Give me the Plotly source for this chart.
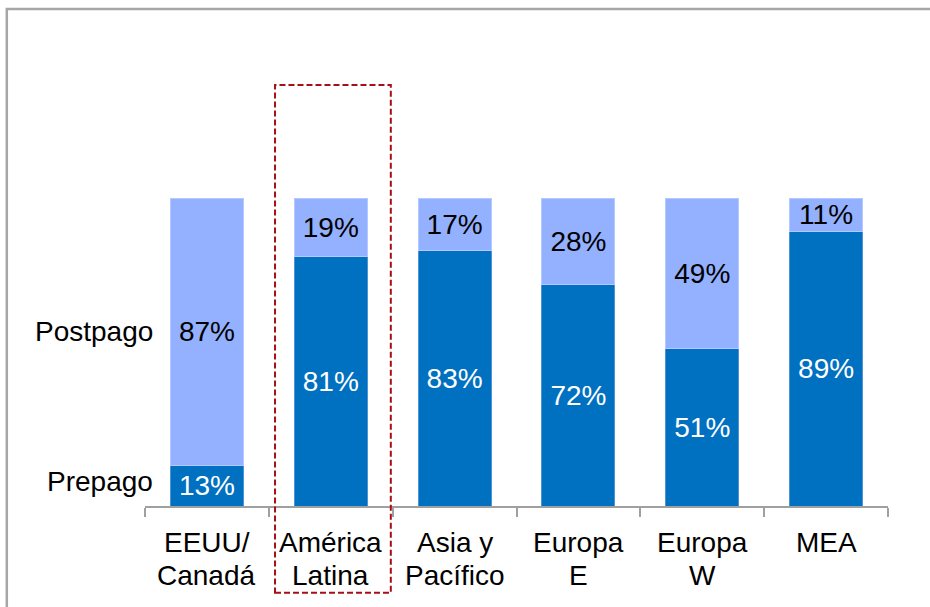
import plotly.graph_objects as go

# Regional split of mobile subscriptions: prepaid vs postpaid (%)
regions = ["EEUU/<br>Canadá", "América<br>Latina", "Asia y<br>Pacífico",
           "Europa<br>E", "Europa<br>W", "MEA"]
prepago = [13, 81, 83, 72, 51, 89]
postpago = [87, 19, 17, 28, 49, 11]

FONT = "Arial, Liberation Sans, sans-serif"
SIZE = 28
DARK = "#0070C0"
LIGHT = "#93B1FF"

fig = go.Figure()
fig.add_trace(go.Bar(
    x=regions, y=prepago, name="Prepago",
    marker=dict(color=DARK, line=dict(color="#4F93D6", width=1)),
    text=[f"{v}%" for v in prepago], textposition="inside",
    insidetextanchor="middle", textangle=0,
    textfont=dict(family=FONT, size=SIZE, color="white"),
    constraintext="none", hoverinfo="skip",
))
fig.add_trace(go.Bar(
    x=regions, y=postpago, name="Postpago",
    marker=dict(color=LIGHT, line=dict(color="#B4C9FF", width=1)),
    text=[f"{v}%" for v in postpago], textposition="inside",
    insidetextanchor="middle", textangle=0,
    textfont=dict(family=FONT, size=SIZE, color="black"),
    constraintext="none", hoverinfo="skip",
))

# Series names written at the left of the first bar
fig.add_annotation(x=0.014, xref="paper", y=prepago[0] + postpago[0] / 2, yref="y",
                   text="Postpago", showarrow=False, xanchor="right",
                   font=dict(family=FONT, size=SIZE, color="black"))
fig.add_annotation(x=0.014, xref="paper", y=8, yref="y",
                   text="Prepago", showarrow=False, xanchor="right",
                   font=dict(family=FONT, size=SIZE, color="black"))

# Category names, one annotation per line for tighter line spacing
for i, name in enumerate(regions):
    for j, line in enumerate(name.split("<br>")):
        fig.add_annotation(x=i, xref="x", y=-0.12 - 0.107 * j, yref="paper",
                           text=line, showarrow=False, xanchor="center",
                           yanchor="middle",
                           font=dict(family=FONT, size=SIZE, color="black"))

# Dashed highlight around América Latina
fig.add_shape(type="rect", xref="x", yref="paper",
              x0=0.55, x1=1.485, y0=-0.282, y1=1.367,
              line=dict(color="#A50F15", width=2, dash="6px,3px"),
              fillcolor="rgba(0,0,0,0)", layer="above")

# Outer frame of the chart
fig.add_shape(type="rect", xref="paper", yref="paper",
              x0=-0.186, x1=1.3, y0=-0.5, y1=1.614,
              line=dict(color="#A6A6A6", width=2.5),
              fillcolor="rgba(0,0,0,0)", layer="below")

fig.update_layout(
    barmode="stack", bargap=0.41,
    width=930, height=607,
    margin=dict(l=145, r=42, t=198, b=101),
    paper_bgcolor="white", plot_bgcolor="white",
    showlegend=False,
    font=dict(family=FONT, size=SIZE, color="black"),
    xaxis=dict(
        range=[-0.5, 5.5], tickson="boundaries", ticks="outside",
        ticklen=9, tickwidth=1.5, tickcolor="#A0A0A0",
        showline=True, linecolor="#A0A0A0", linewidth=1.5,
        showgrid=False, showticklabels=False,
        fixedrange=True,
    ),
    yaxis=dict(range=[0, 100], visible=False, showgrid=False, fixedrange=True),
)

fig.write_html("out.html")
